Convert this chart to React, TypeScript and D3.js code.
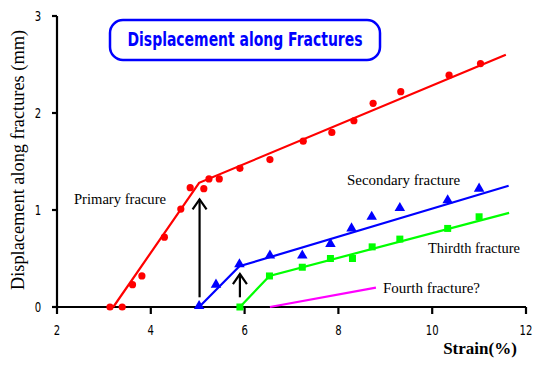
import React, { useEffect, useRef } from 'react';
import * as d3 from 'd3';

// strain (%) / displacement (mm)
const primaryX = [3.13, 3.39, 3.61, 3.81, 4.29, 4.64, 4.84, 5.13, 5.24, 5.46, 5.9, 6.54, 7.25, 7.86, 8.33, 8.74, 9.33, 10.36, 11.03];
const primaryY = [0, 0, 0.23, 0.32, 0.72, 1.01, 1.23, 1.22, 1.32, 1.32, 1.43, 1.52, 1.71, 1.8, 1.92, 2.1, 2.22, 2.39, 2.51];
const secondaryX = [5.03, 5.39, 5.89, 6.54, 7.23, 7.83, 8.28, 8.71, 9.31, 10.33, 11.0];
const secondaryY = [0, 0.22, 0.43, 0.52, 0.52, 0.64, 0.8, 0.92, 1.01, 1.09, 1.21];
const thirdX = [5.9, 6.53, 7.23, 7.83, 8.3, 8.72, 9.31, 10.33, 11.0];
const thirdY = [0, 0.32, 0.41, 0.5, 0.5, 0.62, 0.7, 0.81, 0.93];

// fitted lines (vertices)
const primaryFitX = [3.2, 5.03, 11.57];
const primaryFitY = [0, 1.28, 2.6];
const secondaryFitX = [5.03, 5.89, 11.63];
const secondaryFitY = [0, 0.42, 1.25];
const thirdFitX = [5.9, 6.53, 11.64];
const thirdFitY = [0, 0.32, 0.97];
const fourthFitX = [6.54, 8.8];
const fourthFitY = [0, 0.2];

const xTicks = [2, 4, 6, 8, 10, 12];
const yTicks = [0, 1, 2, 3];

// arrows: x, from y, to y
const arrows = [
  { x: 5.04, y0: 0.1, y1: 1.11 },
  { x: 5.9, y0: 0.1, y1: 0.34 },
];

const narrow = '"Liberation Sans Narrow", "Arial Narrow", "DejaVu Sans Condensed", sans-serif';
const serif = '"Liberation Serif", "Times New Roman", serif';

const App: React.FC = () => {
  const svgRef = useRef<SVGSVGElement>(null);
  const width = 547;
  const height = 367;

  useEffect(() => {
    const svg = d3.select(svgRef.current);
    svg.selectAll('*').remove();

    const x = d3.scaleLinear().domain([2, 12]).range([57, 526]);
    const y = d3.scaleLinear().domain([0, 3]).range([307, 16]);

    svg.append('rect').attr('width', width).attr('height', height).attr('fill', 'white');

    // title box
    svg.append('rect')
      .attr('x', 110).attr('y', 20)
      .attr('width', 270).attr('height', 40)
      .attr('rx', 13).attr('ry', 13)
      .attr('fill', 'white')
      .attr('stroke', '#0000ff')
      .attr('stroke-width', 2.5);
    svg.append('text')
      .attr('x', 245).attr('y', 46)
      .attr('text-anchor', 'middle')
      .attr('fill', '#0000ff')
      .attr('font-family', narrow)
      .attr('font-weight', 'bold')
      .attr('font-size', 19)
      .attr('textLength', 235)
      .attr('lengthAdjust', 'spacingAndGlyphs')
      .text('Displacement along Fractures');

    // axes
    const axis = svg.append('g').attr('stroke', 'black').attr('stroke-width', 2.2);
    axis.append('line').attr('x1', x(2)).attr('x2', x(2)).attr('y1', y(3)).attr('y2', y(0) + 1);
    axis.append('line').attr('x1', x(2)).attr('x2', x(12)).attr('y1', y(0)).attr('y2', y(0));
    yTicks.forEach(t => {
      axis.append('line').attr('x1', x(2) - 5).attr('x2', x(2)).attr('y1', y(t)).attr('y2', y(t));
    });
    xTicks.forEach(t => {
      axis.append('line').attr('x1', x(t)).attr('x2', x(t)).attr('y1', y(0)).attr('y2', y(0) + 7);
    });

    // thin narrow tick labels
    svg.append('g')
      .selectAll('text')
      .data(yTicks)
      .join('text')
      .attr('transform', d => `translate(38,${y(d) + 5}) scale(0.8,1)`)
      .attr('text-anchor', 'middle')
      .attr('font-family', narrow)
      .attr('font-size', 14)
      .text(d => d);

    svg.append('g')
      .selectAll('text')
      .data(xTicks)
      .join('text')
      .attr('transform', d => `translate(${x(d)},335) scale(0.8,1)`)
      .attr('text-anchor', 'middle')
      .attr('font-family', narrow)
      .attr('font-size', 14)
      .text(d => d);

    svg.append('text')
      .attr('transform', 'translate(24,160) rotate(-90)')
      .attr('text-anchor', 'middle')
      .attr('font-family', serif)
      .attr('font-size', 18)
      .attr('textLength', 260)
      .attr('lengthAdjust', 'spacingAndGlyphs')
      .text('Displacement along fractures (mm)');

    svg.append('text')
      .attr('x', 480).attr('y', 354)
      .attr('text-anchor', 'middle')
      .attr('font-family', serif)
      .attr('font-weight', 'bold')
      .attr('font-size', 17)
      .text('Strain(%)');

    // fitted lines
    const line = d3.line<[number, number]>().x(d => x(d[0])).y(d => y(d[1]));
    const fits = [
      { xs: primaryFitX, ys: primaryFitY, c: '#ff0000' },
      { xs: secondaryFitX, ys: secondaryFitY, c: '#0000ff' },
      { xs: thirdFitX, ys: thirdFitY, c: '#00ff00' },
      { xs: fourthFitX, ys: fourthFitY, c: '#ff00ff' },
    ];
    fits.forEach(f => {
      svg.append('path')
        .attr('d', line(f.xs.map((v, i) => [v, f.ys[i]] as [number, number])))
        .attr('fill', 'none')
        .attr('stroke', f.c)
        .attr('stroke-width', 2.2);
    });

    // markers
    svg.append('g')
      .selectAll('circle')
      .data(primaryX.map((v, i) => [v, primaryY[i]]))
      .join('circle')
      .attr('cx', d => x(d[0]))
      .attr('cy', d => y(d[1]))
      .attr('r', 3.6)
      .attr('fill', '#ff0000');

    const tri = d3.symbol().type(d3.symbolTriangle).size(48);
    svg.append('g')
      .selectAll('path')
      .data(secondaryX.map((v, i) => [v, secondaryY[i]]))
      .join('path')
      .attr('transform', d => `translate(${x(d[0])},${y(d[1]) - 1})`)
      .attr('d', tri()!)
      .attr('fill', '#0000ff');

    svg.append('g')
      .selectAll('rect')
      .data(thirdX.map((v, i) => [v, thirdY[i]]))
      .join('rect')
      .attr('x', d => x(d[0]) - 3.5)
      .attr('y', d => y(d[1]) - 3.5)
      .attr('width', 7)
      .attr('height', 7)
      .attr('fill', '#00ff00');

    // arrows
    arrows.forEach(a => {
      const ax = x(a.x);
      const top = y(a.y1);
      svg.append('line')
        .attr('x1', ax).attr('x2', ax)
        .attr('y1', y(a.y0)).attr('y2', top)
        .attr('stroke', 'black').attr('stroke-width', 2.2);
      svg.append('path')
        .attr('d', `M${ax - 7},${top + 10}L${ax},${top}L${ax + 7},${top + 10}`)
        .attr('fill', 'none')
        .attr('stroke', 'black')
        .attr('stroke-width', 2.2);
    });

    // labels
    const labels = [
      { t: 'Primary fracure', x: 74, y: 204, w: 92 },
      { t: 'Secondary fracture', x: 347, y: 185, w: 113 },
      { t: 'Thirdth fracture', x: 428, y: 253, w: 92 },
      { t: 'Fourth fracture?', x: 383, y: 293, w: 97 },
    ];
    svg.append('g')
      .selectAll('text')
      .data(labels)
      .join('text')
      .attr('x', d => d.x)
      .attr('y', d => d.y)
      .attr('font-family', serif)
      .attr('font-size', 14)
      .attr('textLength', d => d.w)
      .attr('lengthAdjust', 'spacingAndGlyphs')
      .text(d => d.t);
  }, []);

  return (
    <svg
      ref={svgRef}
      width={width}
      height={height}
      style={{ position: 'absolute', left: 0, top: 0, display: 'block' }}
    />
  );
};

export default App;
